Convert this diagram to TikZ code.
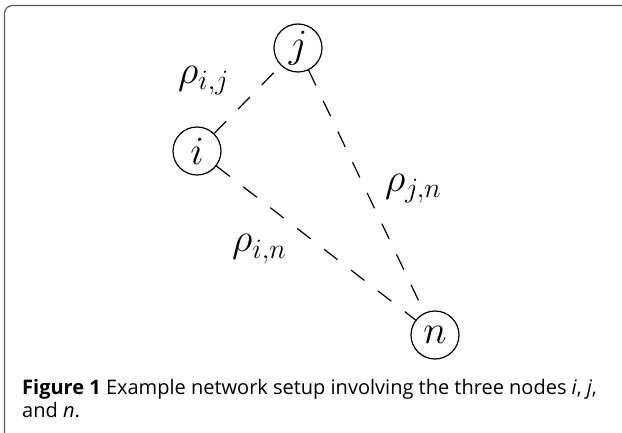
\documentclass[tikz,border=0pt]{standalone}
\usepackage{fix-cm}
\usepackage{fontspec}
\newfontfamily\capfont{Open Sans}
\tikzset{
  vertex/.style={draw, circle, line width=1.2pt, minimum size=48pt, inner sep=0pt,
    font=\fontsize{40}{48}\selectfont},
  link/.style={line width=1.2pt, dash pattern=on 17pt off 17pt},
  weight/.style={anchor=base west, inner sep=0pt, font=\fontsize{40}{48}\selectfont},
  capline/.style={anchor=base west, inner sep=0pt, font=\capfont\fontsize{20}{24}\selectfont},
  frame/.style={draw=black!65, line width=1.2pt, rounded corners=8pt}
}
\begin{document}
\begin{tikzpicture}[x=1pt, y=-1pt]
  \useasboundingbox (0,0) rectangle (622,433);
  % panel outline, open to the right and bottom
  \draw[frame] (4.5,445) -- (4.5,5.5) -- (640,5.5);

  % the three nodes
  \node[vertex] (j) at (298,48) {$j$};
  \node[vertex] (i) at (197,151) {$i$};
  \node[vertex] (n) at (435,335) {$n$};

  % pairwise links
  \draw[link] (i) -- (j);
  \draw[link] (j) -- (n);
  \draw[link] (i) -- (n);

  % link weights
  \node[weight] (wij) at (178,84) {$\rho_{i,j}$};
  \node[weight] (wjn) at (385,192) {$\rho_{j,n}$};
  \node[weight] (win) at (232,252) {$\rho_{i,n}$};

  % caption
  \node[capline] (cap1) at (22,394) {\textbf{Figure 1} Example network setup involving the three nodes \textit{i}, \textit{j},};
  \node[capline] (cap2) at (22,417) {and \textit{n}.};
\end{tikzpicture}
\end{document}
